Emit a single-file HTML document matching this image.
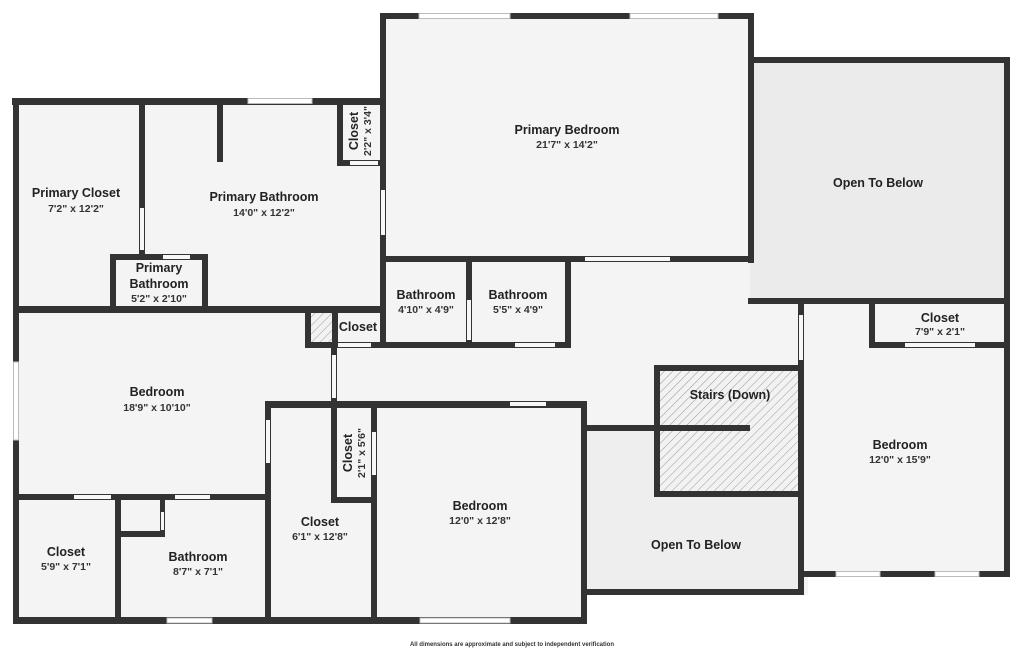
<!DOCTYPE html>
<html><head><meta charset="utf-8"><style>
html,body{margin:0;padding:0;background:#fff;width:1024px;height:650px;overflow:hidden}
svg{display:block}
text{font-family:"Liberation Sans",sans-serif;fill:#222;text-anchor:middle}
.n{font-size:12.5px;font-weight:bold}
.d{font-size:10.5px;font-weight:bold;fill:#333}
</style></head><body>
<svg width="1024" height="650" viewBox="0 0 1024 650" xmlns="http://www.w3.org/2000/svg">
<defs>
<pattern id="h" width="6" height="6" patternUnits="userSpaceOnUse" patternTransform="rotate(45)">
<rect width="6" height="6" fill="#f2f2f2"/><line x1="0" y1="0" x2="0" y2="6" stroke="#999" stroke-width="1"/>
</pattern>
</defs>
<!-- fills -->
<rect x="16" y="101" width="368" height="522" fill="#f4f4f4"/>
<rect x="380" y="13" width="374" height="250" fill="#f4f4f4"/>
<rect x="380" y="255" width="428" height="340" fill="#f4f4f4"/>
<rect x="268" y="400" width="318" height="222" fill="#f4f4f4"/>
<rect x="798" y="300" width="211" height="276" fill="#f4f4f4"/>
<rect x="750" y="57" width="259" height="246" fill="#ebebeb"/>
<rect x="584" y="428" width="217" height="164" fill="#eeeeee"/>
<rect x="657" y="368" width="144" height="126" fill="url(#h)"/>
<rect x="306" y="310" width="29" height="36" fill="url(#h)"/>
<g fill="#333">
<!-- primary bedroom -->
<rect x="380" y="13" width="374" height="6"/>
<rect x="380" y="13" width="6" height="333"/>
<rect x="748" y="13" width="6" height="250"/>
<rect x="380" y="256" width="374" height="6"/>
<!-- open to below right -->
<rect x="748" y="57" width="262" height="6"/>
<rect x="1004" y="57" width="6" height="520"/>
<rect x="748" y="298" width="262" height="6"/>
<!-- left block -->
<rect x="12" y="98" width="374" height="7"/>
<rect x="13" y="98" width="6" height="526"/>
<rect x="139" y="98" width="6" height="160"/>
<rect x="217" y="98" width="6" height="64"/>
<rect x="337" y="98" width="6" height="67"/>
<rect x="337" y="160" width="47" height="6"/>
<rect x="110" y="254" width="97" height="6"/>
<rect x="110" y="254" width="6" height="56"/>
<rect x="202" y="254" width="6" height="56"/>
<rect x="13" y="306" width="373" height="7"/>
<!-- bathrooms mid -->
<rect x="466" y="258" width="6" height="88"/>
<rect x="565" y="258" width="6" height="90"/>
<rect x="305" y="342" width="266" height="6"/>
<rect x="305" y="306" width="6" height="42"/>
<rect x="332" y="306" width="6" height="42"/>
<!-- left bedroom right wall & lower -->
<rect x="331" y="345" width="6" height="158"/>
<rect x="265" y="401" width="321" height="7"/>
<rect x="265" y="401" width="6" height="223"/>
<rect x="331" y="497" width="45" height="6"/>
<rect x="371" y="401" width="6" height="222"/>
<rect x="581" y="401" width="6" height="223"/>
<rect x="13" y="617" width="574" height="7"/>
<rect x="13" y="494" width="258" height="6"/>
<rect x="115" y="494" width="6" height="128"/>
<rect x="115" y="531" width="50" height="6"/>
<rect x="160" y="494" width="5" height="43"/>
<!-- open to below mid / stairs -->
<rect x="584" y="425" width="166" height="6"/>
<rect x="654" y="365" width="150" height="6"/>
<rect x="654" y="365" width="6" height="132"/>
<rect x="654" y="491" width="150" height="6"/>
<rect x="798" y="298" width="6" height="297"/>
<rect x="584" y="589" width="220" height="6"/>
<!-- right bedroom -->
<rect x="869" y="303" width="6" height="45"/>
<rect x="869" y="342" width="141" height="6"/>
<rect x="798" y="571" width="212" height="6"/>
</g>
<!-- doors (openings) -->
<g fill="#f7f7f7">
<rect x="140" y="208" width="4" height="42"/>
<rect x="350" y="161" width="28" height="4"/>
<rect x="381" y="190" width="4" height="45"/>
<rect x="163" y="255" width="27" height="4"/>
<rect x="585" y="257" width="85" height="4"/>
<rect x="467" y="300" width="4" height="40"/>
<rect x="515" y="343" width="40" height="4"/>
<rect x="338" y="343" width="33" height="4"/>
<rect x="332" y="355" width="4" height="43"/>
<rect x="510" y="402" width="36" height="4"/>
<rect x="266" y="420" width="4" height="43"/>
<rect x="372" y="432" width="4" height="43"/>
<rect x="74" y="495" width="37" height="4"/>
<rect x="175" y="495" width="35" height="4"/>
<rect x="161" y="512" width="3" height="18"/>
<rect x="799" y="315" width="4" height="45"/>
<rect x="905" y="343" width="70" height="4"/>
</g>
<!-- windows -->
<g fill="#fff" stroke="#bbb" stroke-width="1">
<rect x="419" y="13.5" width="91" height="5"/>
<rect x="630" y="13.5" width="88" height="5"/>
<rect x="248" y="98.5" width="64" height="5"/>
<rect x="13.5" y="362" width="5" height="78"/>
<rect x="167" y="618" width="45" height="5"/>
<rect x="420" y="618" width="90" height="5"/>
<rect x="836" y="571.5" width="44" height="5"/>
<rect x="935" y="571.5" width="44" height="5"/>
</g>
<!-- labels -->
<text class="n" x="76" y="197">Primary Closet</text><text class="d" x="76" y="212">7'2" x 12'2"</text>
<text class="n" x="264" y="201">Primary Bathroom</text><text class="d" x="264" y="216">14'0" x 12'2"</text>
<text class="n" x="159" y="272">Primary</text><text class="n" x="159" y="288">Bathroom</text><text class="d" x="159" y="302">5'2" x 2'10"</text>
<g transform="translate(358,131) rotate(-90)"><text class="n" x="0" y="0">Closet</text><text class="d" x="0" y="13">2'2" x 3'4"</text></g>
<text class="n" x="567" y="134">Primary Bedroom</text><text class="d" x="567" y="148">21'7" x 14'2"</text>
<text class="n" x="878" y="187">Open To Below</text>
<text class="n" x="426" y="299">Bathroom</text><text class="d" x="426" y="313">4'10" x 4'9"</text>
<text class="n" x="518" y="299">Bathroom</text><text class="d" x="518" y="313">5'5" x 4'9"</text>
<text class="n" x="358" y="331">Closet</text>
<text class="n" x="940" y="322">Closet</text><text class="d" x="940" y="335">7'9" x 2'1"</text>
<text class="n" x="157" y="396">Bedroom</text><text class="d" x="157" y="411">18'9" x 10'10"</text>
<text class="n" x="730" y="399">Stairs (Down)</text>
<text class="n" x="900" y="449">Bedroom</text><text class="d" x="900" y="463">12'0" x 15'9"</text>
<g transform="translate(352,453) rotate(-90)"><text class="n" x="0" y="0">Closet</text><text class="d" x="0" y="13">2'1" x 5'6"</text></g>
<text class="n" x="480" y="510">Bedroom</text><text class="d" x="480" y="524">12'0" x 12'8"</text>
<text class="n" x="320" y="526">Closet</text><text class="d" x="320" y="540">6'1" x 12'8"</text>
<text class="n" x="696" y="549">Open To Below</text>
<text class="n" x="66" y="556">Closet</text><text class="d" x="66" y="570">5'9" x 7'1"</text>
<text class="n" x="198" y="561">Bathroom</text><text class="d" x="198" y="575">8'7" x 7'1"</text>
<text x="512" y="646" style="font-size:6px;font-weight:bold;fill:#333">All dimensions are approximate and subject to independent verification</text>
</svg>
</body></html>
